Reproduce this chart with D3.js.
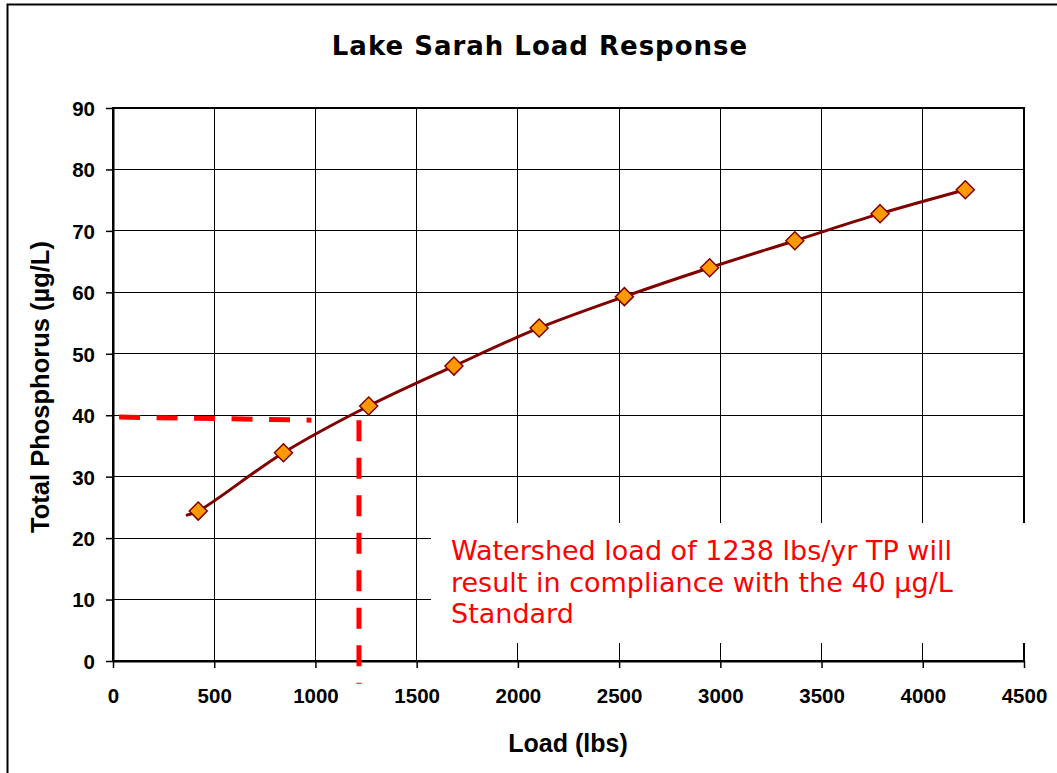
<!DOCTYPE html>
<html>
<head>
<meta charset="utf-8">
<script src="https://cdn.jsdelivr.net/npm/d3@7"></script>
<style>
  body { margin: 0; background: #fff; }
  svg { display: block; }
</style>
</head>
<body>
<div id="chart"></div>
<script>
// data
const loads = [421, 842, 1263, 1684, 2105, 2526, 2947, 3368, 3789, 4210];
const phosphorus = [24.4, 33.9, 41.5, 48.0, 54.2, 59.3, 64.0, 68.4, 72.8, 76.7];
// smoothed line starts a little left of the first marker
const lineStart = [360, 23.7];
const xTicks = [0, 500, 1000, 1500, 2000, 2500, 3000, 3500, 4000, 4500];
const yTicks = [0, 10, 20, 30, 40, 50, 60, 70, 80, 90];
// red target lines: 40 ug/L standard and the 1238 lbs/yr load
const targetH = [[30, 39.7], [980, 39.2]];
const targetV = [[1215, 39.2], [1215, -3.7]];
const noteLines = [
  "Watershed load of 1238 lbs/yr TP will",
  "result in compliance with the 40 \u00b5g/L",
  "Standard"
];

const W = 1057, H = 773;
const svg = d3.select("#chart").append("svg")
    .attr("width", W)
    .attr("height", H);

// chart frame
svg.append("rect")
    .attr("x", 7.5).attr("y", 4.5)
    .attr("width", 1100).attr("height", 900)
    .attr("fill", "#fff")
    .attr("stroke", "#000")
    .attr("stroke-width", 2);

const x = d3.scaleLinear().domain([0, 4500]).range([113, 1024]);
const y = d3.scaleLinear().domain([0, 90]).range([661, 108]);

// gridlines
const grid = svg.append("g").attr("shape-rendering", "crispEdges");
grid.selectAll(".gy")
    .data(yTicks)
    .enter().append("line")
    .attr("x1", x(0)).attr("x2", x(4500))
    .attr("y1", d => y(d)).attr("y2", d => y(d))
    .attr("stroke", "#000")
    .attr("stroke-width", 1);
grid.selectAll(".gx")
    .data(xTicks)
    .enter().append("line")
    .attr("x1", d => x(d)).attr("x2", d => x(d))
    .attr("y1", y(0)).attr("y2", y(90))
    .attr("stroke", "#000")
    .attr("stroke-width", 1);

// plot border (top/right)
svg.append("rect")
    .attr("x", x(0)).attr("y", y(90))
    .attr("width", x(4500) - x(0)).attr("height", y(0) - y(90))
    .attr("fill", "none")
    .attr("stroke", "#000")
    .attr("stroke-width", 2);

// axes
const xAxis = d3.axisBottom(x).tickValues(xTicks).tickFormat(d3.format("d"))
    .tickSize(7).tickSizeOuter(0);
const yAxis = d3.axisLeft(y).tickValues(yTicks).tickFormat(d3.format("d"))
    .tickSize(7).tickSizeOuter(0);

const gx = svg.append("g")
    .attr("transform", `translate(0,${y(0)})`)
    .call(xAxis);
const gy = svg.append("g")
    .attr("transform", `translate(${x(0)},0)`)
    .call(yAxis);

[gx, gy].forEach(g => {
  g.select(".domain").attr("stroke", "#000").attr("stroke-width", 2);
  g.selectAll(".tick line").attr("stroke", "#000").attr("stroke-width", 1.5);
  g.selectAll(".tick text")
      .attr("fill", "#000")
      .style("font-family", "'Liberation Sans', Arial, sans-serif")
      .style("font-weight", "bold")
      .style("font-size", "20.5px");
});
gx.selectAll(".tick text").attr("dy", 0).attr("y", 42);
gy.selectAll(".tick text").attr("x", -18).attr("dy", "0.36em");

// red dashed target lines
const lineXY = d3.line().x(d => x(d[0])).y(d => y(d[1]));
[targetH, targetV].forEach(seg => {
  svg.append("path")
      .attr("d", lineXY(seg))
      .attr("fill", "none")
      .attr("stroke", "#ff0000")
      .attr("stroke-width", 5)
      .attr("stroke-dasharray", "21,16.5");
});

// white note box over the lower right of the plot
svg.append("rect")
    .attr("x", 431).attr("y", 523)
    .attr("width", 620).attr("height", 120)
    .attr("fill", "#fff");

svg.append("g")
    .selectAll("text")
    .data(noteLines)
    .enter().append("text")
    .attr("x", 451)
    .attr("y", (d, i) => 560 + i * 31.5)
    .attr("fill", "#ff0000")
    .style("font-family", "'DejaVu Sans', Verdana, sans-serif")
    .style("font-size", "27px")
    .text(d => d);

// smoothed series line
const pts = [lineStart].concat(loads.map((d, i) => [d, phosphorus[i]]));
const smooth = d3.line()
    .x(d => x(d[0])).y(d => y(d[1]))
    .curve(d3.curveCatmullRom.alpha(0.5));
svg.append("path")
    .attr("d", smooth(pts))
    .attr("fill", "none")
    .attr("stroke", "#800000")
    .attr("stroke-width", 3);

// diamond markers
svg.append("g")
    .selectAll("path")
    .data(loads)
    .enter().append("path")
    .attr("transform", (d, i) => `translate(${x(d)},${y(phosphorus[i])})`)
    .attr("d", "M0,-9L9,0L0,9L-9,0Z")
    .attr("fill", "#ff9900")
    .attr("stroke", "#800000")
    .attr("stroke-width", 1.5);

// titles
svg.append("text")
    .attr("x", 540).attr("y", 55)
    .attr("text-anchor", "middle")
    .style("font-family", "'DejaVu Sans', Verdana, sans-serif")
    .style("font-weight", "bold")
    .style("font-size", "26px")
    .style("letter-spacing", "1px")
    .text("Lake Sarah Load Response");

svg.append("text")
    .attr("x", 568).attr("y", 752)
    .attr("text-anchor", "middle")
    .style("font-family", "'Liberation Sans', Arial, sans-serif")
    .style("font-weight", "bold")
    .style("font-size", "25px")
    .text("Load (lbs)");

svg.append("text")
    .attr("transform", "translate(49,387) rotate(-90)")
    .attr("text-anchor", "middle")
    .style("font-family", "'Liberation Sans', Arial, sans-serif")
    .style("font-weight", "bold")
    .style("font-size", "25.5px")
    .text("Total Phosphorus (\u00b5g/L)");
</script>
</body>
</html>
